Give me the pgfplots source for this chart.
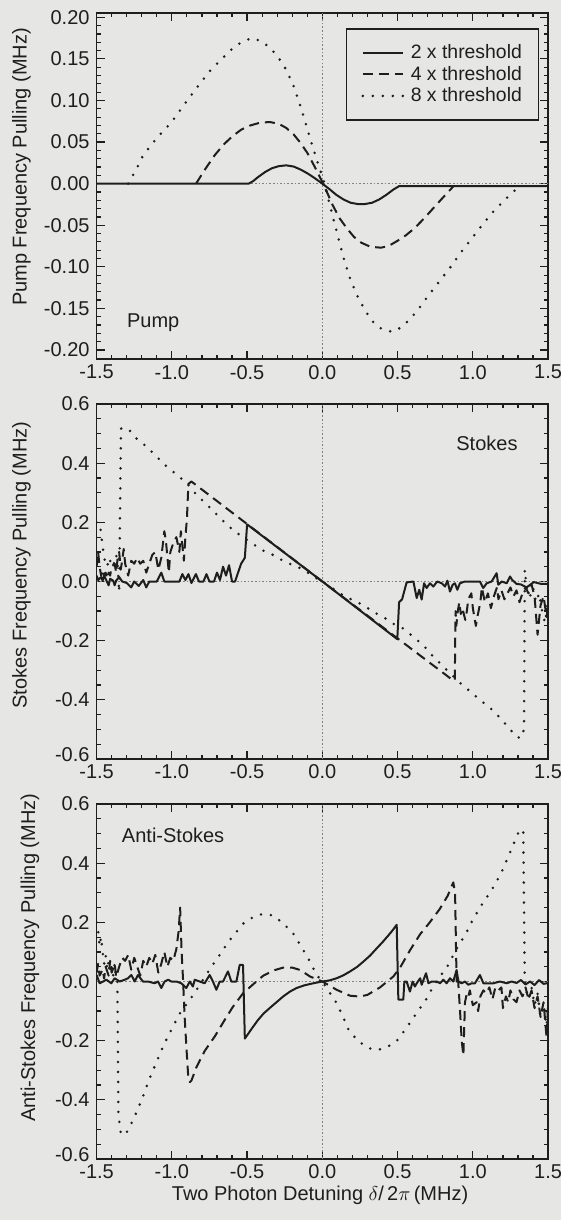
\documentclass[border=0pt]{standalone}
\usepackage{fontspec}
\setmainfont{Liberation Sans}
\usepackage{pgfplots}
\pgfplotsset{compat=1.18}

\definecolor{ink}{HTML}{1E1E1E}
\definecolor{paper}{HTML}{E6E6E4}
\definecolor{guide}{HTML}{808080}

\newcommand{\lifted}[1]{\raisebox{2pt}[\height][\depth]{#1}}

\tikzset{
  tag/.style={font=\fontsize{10}{12}\selectfont, text=ink, anchor=west, inner sep=0pt},
}
\pgfplotsset{
  panel/.style={
    scale only axis, width=225.75pt, anchor=south west,
    xmin=-1.5, xmax=1.5,
    xtick={-1.5,-1,-0.5,0,0.5,1,1.5},
    xticklabels={-1.5,-1.0,-0.5,0.0,0.5,1.0,1.5},
    minor x tick num=4,
    tick align=inside,
    major tick length=4pt, minor tick length=2pt,
    every tick/.style={line width=0.6pt, ink},
    axis line style={line width=0.9pt, ink},
    ticklabel style={font=\fontsize{10}{12}\selectfont, text=ink},
    xticklabel style={yshift=0.6pt},
    label style={font=\fontsize{10}{12}\selectfont, text=ink},
    ylabel style={anchor=center},
  },
  twox/.style={ink, line width=1pt, solid, line join=round},
  fourx/.style={ink, line width=1pt, line join=round, dash pattern=on 5pt off 3pt},
  eightx/.style={ink, line width=1.4pt, line cap=round, dash pattern=on 0pt off 5pt},
  zeroline/.style={guide, line width=0.5pt, dash pattern=on 0.8pt off 1pt, forget plot},
}

\begin{document}
\begin{tikzpicture}
\fill[paper] (0,0) rectangle (280.5pt,-610pt);

% ---------------- Pump ----------------
\begin{axis}[panel, at={(48.3pt,-179.65pt)}, height=173pt,
  ymin=-0.2112, ymax=0.2048,
  ytick={-0.2,-0.15,-0.1,-0.05,0,0.05,0.1,0.15,0.2},
  yticklabels={-0.20,-0.15,-0.10,-0.05,0.00,0.05,0.10,0.15,0.20},
  minor y tick num=4,
  ylabel={Pump Frequency Pulling (MHz)},
  ylabel style={at={(axis description cs:-0.1663,0.556)}},
  legend style={at={(1,1)}, anchor=north east, xshift=-4.5pt, yshift=-7.5pt,
    draw=ink, line width=0.6pt, fill=paper, text=ink,
    font=\fontsize{9.7}{10}\selectfont,
    inner xsep=7.5pt, inner ysep=7pt, row sep=0.6pt, column sep=2.5pt,
    nodes={inner sep=0.8pt},
    cells={anchor=west}},
  legend image code/.code={\draw[#1] (0pt,0pt) -- (20pt,0pt);},
]
\addplot[zeroline] coordinates {(-1.5,0) (1.5,0)};
\addplot[zeroline] coordinates {(0,-0.2112) (0,0.2048)};
\addplot[twox] coordinates {
(-1.5,0)(-0.49,0)(-0.46,0.003)(-0.43,0.0075)(-0.38,0.014)(-0.335,0.0185)(-0.29,0.021)
(-0.24,0.022)(-0.19,0.0205)(-0.145,0.017)(-0.10,0.0125)(-0.05,0.0065)(0,0)
(0.05,-0.007)(0.093,-0.0135)(0.14,-0.019)(0.188,-0.023)(0.235,-0.0245)(0.283,-0.0245)
(0.33,-0.023)(0.378,-0.019)(0.425,-0.0135)(0.473,-0.007)(0.51,-0.003)(1.5,-0.003)};
\addlegendentry{2 x threshold}
\addplot[fourx] coordinates {
(-0.839,0)(-0.78,0.017)(-0.716,0.034)(-0.656,0.047)(-0.597,0.057)(-0.538,0.065)
(-0.478,0.070)(-0.41,0.0735)(-0.347,0.074)(-0.29,0.072)(-0.24,0.067)(-0.19,0.059)
(-0.145,0.049)(-0.10,0.037)(-0.05,0.020)(0,0.002)(0.035,-0.012)(0.069,-0.026)
(0.116,-0.042)(0.164,-0.054)(0.21,-0.064)(0.259,-0.071)(0.32,-0.076)(0.39,-0.077)
(0.44,-0.075)(0.497,-0.069)(0.556,-0.062)(0.616,-0.053)(0.675,-0.042)(0.735,-0.030)
(0.80,-0.017)(0.872,-0.003)};
\addlegendentry{4 x threshold}
\addplot[eightx] coordinates {
(-1.29,0.0)(-1.24,0.016)(-1.191,0.034)(-1.10,0.055)(-1.001,0.074)(-0.91,0.097)
(-0.811,0.121)(-0.74,0.137)(-0.668,0.150)(-0.60,0.162)(-0.53,0.171)(-0.466,0.175)
(-0.40,0.171)(-0.335,0.161)(-0.29,0.151)(-0.240,0.137)(-0.19,0.117)(-0.145,0.093)
(-0.11,0.072)(-0.074,0.050)(-0.04,0.030)(-0.014,0.016)(0.015,0.0)(0.045,-0.022)
(0.08,-0.047)(0.116,-0.072)(0.15,-0.095)(0.188,-0.116)(0.235,-0.136)(0.283,-0.152)
(0.33,-0.165)(0.378,-0.173)(0.425,-0.177)(0.473,-0.178)(0.53,-0.172)(0.592,-0.161)
(0.65,-0.148)(0.711,-0.133)(0.78,-0.117)(0.853,-0.100)(0.92,-0.083)(0.996,-0.065)
(1.07,-0.048)(1.139,-0.033)(1.22,-0.018)(1.305,-0.004)};
\addlegendentry{8 x threshold}
\node[tag] at (axis cs:-1.30,-0.167) {Pump};
\end{axis}

% ---------------- Stokes ----------------
\begin{axis}[panel, at={(48.3pt,-379.5pt)}, height=177.5pt,
  ymin=-0.6, ymax=0.6,
  ytick={-0.6,-0.4,-0.2,0,0.2,0.4,0.6},
  yticklabels={\lifted{-0.6},-0.4,-0.2,0.0,0.2,0.4,0.6},
  minor y tick num=3,
  ylabel={Stokes Frequency Pulling (MHz)},
  ylabel style={at={(axis description cs:-0.1663,0.546)}},
]
\addplot[zeroline] coordinates {(-1.5,0) (1.5,0)};
\addplot[zeroline] coordinates {(0,-0.6) (0,0.6)};
\addplot[twox] coordinates {
(-1.500,0.020)(-1.490,0.005)(-1.470,0.015)(-1.460,0.003)(-1.450,0.020)(-1.430,-0.002)
(-1.420,-0.013)(-1.410,0.009)(-1.390,0.003)(-1.380,-0.013)(-1.370,0.003)(-1.350,0.015)
(-1.330,0.000)(-1.300,-0.005)(-1.270,-0.020)(-1.250,0.000)(-1.220,-0.015)(-1.190,0.005)
(-1.170,-0.020)(-1.150,0.000)(-1.100,0.000)(-1.070,0.030)(-1.050,0.000)(-0.950,0.000)
(-0.930,0.025)(-0.910,0.005)(-0.890,0.025)(-0.870,-0.005)(-0.840,0.025)(-0.820,0.000)
(-0.790,0.000)(-0.770,0.025)(-0.750,0.000)(-0.720,0.000)(-0.700,0.030)(-0.680,0.005)
(-0.660,0.050)(-0.640,0.020)(-0.620,0.055)(-0.600,0.000)(-0.580,0.000)(-0.540,0.060)
(-0.515,0.080)(-0.500,0.193)(0.000,0.000)(0.498,-0.195)(0.510,-0.070)(0.530,-0.060)
(0.560,-0.003)(0.605,0.000)(0.627,-0.056)(0.644,-0.028)(0.660,-0.061)(0.676,-0.006)
(0.693,-0.022)(0.715,-0.006)(0.737,-0.017)(0.764,0.000)(0.793,-0.006)(0.815,-0.017)
(0.831,0.003)(0.848,-0.034)(0.866,-0.011)(0.881,-0.006)(0.897,-0.028)(0.914,-0.006)
(0.947,0.000)(1.003,0.000)(1.047,0.000)(1.069,-0.022)(1.092,-0.006)(1.125,0.000)
(1.158,0.028)(1.169,-0.011)(1.192,0.000)(1.225,-0.006)(1.247,0.017)(1.260,0.006)
(1.290,-0.008)(1.320,-0.010)(1.357,-0.020)(1.405,-0.002)(1.452,-0.008)(1.500,-0.008)};
\addplot[fourx] coordinates {
(-1.50,0.05)(-1.49,0.10)(-1.48,0.05)(-1.47,0.02)(-1.46,0.04)(-1.45,0.02)(-1.44,0.03)
(-1.43,0.01)(-1.42,0.03)(-1.41,0.02)(-1.40,0.05)(-1.38,0.06)(-1.37,0.03)(-1.36,0.08)
(-1.35,0.10)(-1.34,0.04)(-1.33,0.07)(-1.32,0.11)(-1.31,0.06)(-1.29,0.02)(-1.27,0.07)
(-1.25,0.06)(-1.23,0.08)(-1.21,0.06)(-1.19,0.07)(-1.17,0.03)(-1.15,0.06)(-1.13,0.09)
(-1.11,0.10)(-1.09,0.04)(-1.07,0.08)(-1.05,0.17)(-1.04,0.14)(-1.02,0.03)(-1.01,0.10)
(-0.99,0.13)(-0.97,0.15)(-0.95,0.10)(-0.94,0.17)(-0.92,0.07)(-0.91,0.15)(-0.90,0.21)
(-0.89,0.33)(-0.87,0.338)(0,0)(0.86,-0.331)(0.88,-0.335)(0.885,-0.10)(0.89,-0.15)
(0.90,-0.10)(0.91,-0.07)(0.92,-0.11)(0.93,-0.09)(0.95,-0.13)(0.96,-0.10)(0.97,-0.06)
(0.99,-0.04)(1.00,-0.09)(1.02,-0.15)(1.03,-0.12)(1.05,-0.07)(1.06,-0.02)(1.08,-0.07)
(1.10,-0.04)(1.12,-0.09)(1.14,-0.05)(1.16,-0.02)(1.17,-0.06)(1.19,-0.03)(1.21,-0.06)
(1.23,-0.04)(1.25,-0.02)(1.27,-0.05)(1.29,-0.03)(1.31,-0.07)(1.33,-0.04)(1.35,-0.02)
(1.37,-0.04)(1.39,-0.01)(1.41,-0.05)(1.43,-0.18)(1.45,-0.08)(1.47,-0.05)(1.49,-0.12)
(1.50,-0.08)};
\addplot[eightx] coordinates {
(-1.500,0.200)(-1.485,0.200)(-1.475,0.180)(-1.465,0.140)(-1.455,0.100)(-1.445,0.070)
(-1.430,0.050)(-1.415,0.080)(-1.400,0.050)(-1.385,0.060)(-1.370,0.090)(-1.360,0.060)
(-1.350,-0.036)(-1.338,0.517)(-1.291,0.517)(-1.236,0.484)(-1.170,0.457)(-1.103,0.423)
(-1.037,0.390)(-0.970,0.362)(-0.904,0.334)(-0.846,0.299)(-0.780,0.266)(-0.713,0.232)
(-0.658,0.204)(-0.592,0.173)(-0.525,0.149)(-0.459,0.126)(-0.392,0.104)(-0.315,0.087)
(-0.248,0.065)(-0.182,0.054)(-0.116,0.037)(-0.049,0.014)(0,0)(0.139,-0.047)
(0.206,-0.064)(0.272,-0.080)(0.339,-0.103)(0.405,-0.120)(0.471,-0.143)(0.538,-0.159)
(0.604,-0.187)(0.671,-0.215)(0.726,-0.248)(0.793,-0.282)(0.915,-0.343)(0.992,-0.376)
(1.059,-0.405)(1.125,-0.432)(1.180,-0.460)(1.240,-0.495)(1.286,-0.524)(1.320,-0.530)
(1.340,-0.500)(1.345,0.040)(1.360,-0.030)(1.380,-0.050)(1.400,-0.020)(1.420,-0.070)
(1.440,-0.040)(1.460,-0.100)(1.480,-0.140)(1.500,-0.060)};
\node[tag] at (axis cs:0.888,0.467) {Stokes};
\end{axis}

% ---------------- Anti-Stokes ----------------
\begin{axis}[panel, at={(48.3pt,-579.5pt)}, height=177.5pt,
  ymin=-0.6, ymax=0.6,
  ytick={-0.6,-0.4,-0.2,0,0.2,0.4,0.6},
  yticklabels={\lifted{-0.6},-0.4,-0.2,0.0,0.2,0.4,0.6},
  minor y tick num=3,
  ylabel={Anti-Stokes Frequency Pulling (MHz)},
  ylabel style={at={(axis description cs:-0.1475,0.567)}},
  xlabel={Two Photon Detuning $\delta$/\,2$\pi$\,(MHz)},
  xlabel style={at={(axis description cs:0.495,-0.101)}, anchor=center, inner sep=0pt},
]
\addplot[zeroline] coordinates {(-1.5,0) (1.5,0)};
\addplot[zeroline] coordinates {(0,-0.6) (0,0.6)};
\addplot[twox] coordinates {
(-1.500,0.022)(-1.480,-0.006)(-1.457,0.000)(-1.435,0.006)(-1.402,-0.006)(-1.380,0.011)
(-1.347,0.000)(-1.313,0.006)(-1.291,0.011)(-1.269,0.022)(-1.247,0.000)(-1.225,0.022)
(-1.192,0.000)(-1.158,0.000)(-1.114,-0.006)(-1.092,0.000)(-1.070,-0.022)(-1.048,0.000)
(-1.025,0.006)(-1.003,0.000)(-0.970,0.000)(-0.937,-0.006)(-0.904,-0.022)(-0.881,0.000)
(-0.860,-0.017)(-0.848,0.006)(-0.815,0.000)(-0.782,-0.006)(-0.749,0.022)(-0.727,0.000)
(-0.704,-0.028)(-0.682,0.000)(-0.660,0.000)(-0.627,0.034)(-0.605,0.000)(-0.571,0.000)
(-0.549,0.056)(-0.527,0.056)(-0.515,-0.193)(-0.470,-0.160)(-0.429,-0.131)(-0.390,-0.108)
(-0.348,-0.089)(-0.300,-0.068)(-0.259,-0.050)(-0.215,-0.034)(-0.171,-0.022)(-0.120,-0.013)
(-0.060,-0.006)(0,0)(0.050,0.004)(0.095,0.011)(0.140,0.021)(0.184,0.034)(0.230,0.049)
(0.272,0.067)(0.318,0.088)(0.361,0.112)(0.400,0.133)(0.439,0.156)(0.470,0.175)
(0.494,0.192)(0.505,-0.061)(0.538,-0.061)(0.545,0.000)(0.560,0.000)(0.582,-0.034)
(0.600,0.000)(0.615,-0.017)(0.627,-0.006)(0.650,0.011)(0.660,-0.011)(0.689,0.028)
(0.705,-0.006)(0.727,0.000)(0.760,0.000)(0.782,-0.006)(0.804,0.006)(0.826,-0.006)
(0.848,0.011)(0.870,0.000)(0.892,0.039)(0.904,0.000)(0.926,-0.006)(0.948,0.000)
(0.970,-0.011)(0.992,-0.006)(1.014,-0.006)(1.047,0.022)(1.070,-0.006)(1.103,-0.006)
(1.136,-0.006)(1.180,0.000)(1.225,-0.006)(1.258,0.000)(1.290,-0.005)(1.320,0.005)
(1.350,-0.010)(1.380,0.000)(1.410,-0.012)(1.440,0.005)(1.470,-0.008)(1.500,-0.005)};
\addplot[fourx] coordinates {
(-1.50,0.03)(-1.49,0.06)(-1.48,0.02)(-1.46,0.04)(-1.45,0.01)(-1.44,0.05)(-1.42,0.02)
(-1.41,0.07)(-1.40,0.03)(-1.38,0.06)(-1.37,0.015)(-1.35,0.05)(-1.33,0.08)(-1.31,0.07)
(-1.29,0.09)(-1.27,0.04)(-1.25,0.08)(-1.23,0.05)(-1.21,0.02)(-1.19,0.07)(-1.17,0.05)
(-1.15,0.08)(-1.13,0.06)(-1.11,0.09)(-1.09,0.03)(-1.07,0.06)(-1.05,0.10)(-1.03,0.05)
(-1.01,0.08)(-0.99,0.07)(-0.97,0.11)(-0.955,0.17)(-0.945,0.25)(-0.935,0.10)(-0.925,0.0)
(-0.915,-0.12)(-0.90,-0.25)(-0.89,-0.33)(-0.88,-0.34)(-0.87,-0.335)(-0.837,-0.29)
(-0.782,-0.235)(-0.714,-0.185)(-0.649,-0.13)(-0.595,-0.086)(-0.527,-0.04)(-0.45,-0.005)
(-0.392,0.020)(-0.32,0.038)(-0.26,0.047)(-0.20,0.047)(-0.148,0.039)(-0.082,0.017)(0,0)
(0.095,-0.028)(0.184,-0.048)(0.25,-0.051)(0.30,-0.045)(0.383,-0.020)(0.472,0.017)
(0.52,0.05)(0.583,0.106)(0.65,0.16)(0.714,0.20)(0.78,0.245)(0.833,0.29)(0.870,0.335)
(0.882,0.30)(0.892,0.0)(0.90,0.02)(0.915,-0.10)(0.926,-0.20)(0.937,-0.25)(0.948,-0.07)
(0.96,-0.04)(0.97,-0.05)(0.98,-0.03)(1.00,-0.08)(1.025,-0.07)(1.035,-0.10)(1.05,-0.05)
(1.07,-0.03)(1.09,-0.04)(1.11,-0.02)(1.13,-0.06)(1.15,-0.02)(1.17,-0.03)(1.19,-0.02)
(1.20,-0.09)(1.22,-0.05)(1.235,-0.07)(1.25,-0.03)(1.27,-0.06)(1.29,-0.07)(1.31,-0.03)
(1.33,-0.05)(1.35,-0.02)(1.37,-0.06)(1.39,-0.03)(1.41,-0.09)(1.43,-0.05)(1.45,-0.12)
(1.47,-0.07)(1.49,-0.19)(1.50,-0.07)};
\addplot[eightx] coordinates {
(-1.50,0.20)(-1.49,0.17)(-1.48,0.12)(-1.47,0.15)(-1.46,0.10)(-1.45,0.06)(-1.44,0.09)
(-1.43,0.04)(-1.42,0.07)(-1.41,0.03)(-1.40,0.05)(-1.39,0.02)(-1.38,0.06)(-1.37,0.01)
(-1.362,0.0)(-1.355,-0.45)(-1.34,-0.51)(-1.31,-0.52)(-1.25,-0.46)(-1.20,-0.40)
(-1.15,-0.33)(-1.10,-0.27)(-1.05,-0.21)(-1.00,-0.16)(-0.95,-0.11)(-0.90,-0.075)
(-0.85,-0.04)(-0.80,0.0)(-0.78,0.017)(-0.713,0.067)(-0.669,0.10)(-0.625,0.134)
(-0.58,0.162)(-0.525,0.196)(-0.459,0.218)(-0.392,0.229)(-0.326,0.223)(-0.259,0.196)
(-0.193,0.162)(-0.126,0.106)(-0.082,0.067)(-0.038,0.022)(0,0)(0.05,-0.039)
(0.095,-0.073)(0.14,-0.123)(0.173,-0.162)(0.228,-0.196)(0.294,-0.223)(0.361,-0.232)
(0.427,-0.223)(0.494,-0.201)(0.56,-0.156)(0.627,-0.106)(0.682,-0.067)(0.737,-0.017)
(0.782,0.017)(0.837,0.056)(0.904,0.123)(0.948,0.156)(0.992,0.201)(1.048,0.251)
(1.10,0.29)(1.15,0.33)(1.20,0.38)(1.25,0.44)(1.30,0.50)(1.32,0.515)(1.335,0.51)
(1.345,0.0)(1.35,-0.02)(1.37,-0.06)(1.39,-0.02)(1.41,-0.08)(1.43,-0.04)(1.45,-0.12)
(1.47,-0.08)(1.49,-0.15)(1.50,-0.10)};
\node[tag] at (axis cs:-1.334,0.495) {Anti-Stokes};
\end{axis}

\pgfresetboundingbox
\path (0,0) rectangle (280.5pt,-610pt);
\end{tikzpicture}
\end{document}
